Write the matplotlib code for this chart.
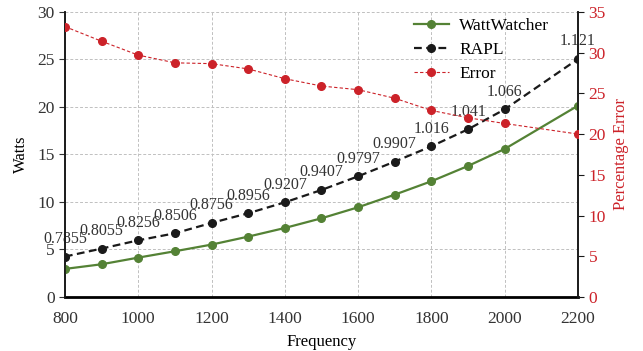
import matplotlib
matplotlib.use("Agg")
import matplotlib.pyplot as plt

plt.rcParams['font.family'] = ['Liberation Serif', 'DejaVu Serif']

# data
freq = [800, 900, 1000, 1100, 1200, 1300, 1400, 1500, 1600, 1700, 1800, 1900, 2000, 2200]
wattwatcher = [2.95, 3.44, 4.14, 4.81, 5.51, 6.35, 7.26, 8.28, 9.44, 10.77, 12.18, 13.79, 15.58, 20.14]
rapl = [4.25, 5.09, 5.96, 6.70, 7.79, 8.81, 9.96, 11.26, 12.70, 14.25, 15.86, 17.65, 19.75, 25.05]
error = [33.2, 31.4, 29.7, 28.75, 28.65, 28.0, 26.8, 25.9, 25.45, 24.4, 22.9, 22.0, 21.3, 20.0]
labels = ['0.7855', '0.8055', '0.8256', '0.8506', '0.8756', '0.8956', '0.9207',
          '0.9407', '0.9797', '0.9907', '1.016', '1.041', '1.066', '1.121']

green = '#548235'
red = '#CC2229'
black = '#1a1a1a'

fig = plt.figure(figsize=(6.43, 3.51), dpi=100)
ax = fig.add_axes([0.101, 0.154, 0.798, 0.812])
ax2 = ax.twinx()

l1, = ax.plot(freq, wattwatcher, '-o', color=green, lw=1.6, ms=5.5, label='WattWatcher', zorder=3)
l2, = ax.plot(freq, rapl, '--o', color=black, lw=1.6, ms=5.5, dashes=(3.5, 2), label='RAPL', zorder=3)
l3, = ax2.plot(freq, error, '--o', color=red, lw=0.8, ms=5.5, dashes=(3, 2), label='Error', zorder=3)

# ratio labels above the RAPL points
for x, y, t in zip(freq, rapl, labels):
    ax.annotate(t, (x, y), xytext=(0, 7), textcoords='offset points',
                ha='center', va='bottom', fontsize=11.5, color='#333333')

ax.set_xlim(800, 2200)
ax.set_ylim(0, 30)
ax2.set_ylim(0, 35)
ax.set_xticks(range(800, 2201, 200))
ax.set_yticks(range(0, 31, 5))
ax2.set_yticks(range(0, 36, 5))

ax.grid(True, color='#c0c0c0', ls='--', lw=0.7, dashes=(3, 2))
ax.set_axisbelow(True)

for a in (ax, ax2):
    a.spines['top'].set_visible(False)
    a.spines['left'].set_color(black)
    a.spines['right'].set_color(black)
    a.spines['left'].set_linewidth(1.2)
    a.spines['right'].set_linewidth(1.2)
ax.spines['bottom'].set_linewidth(2.0)
ax2.spines['bottom'].set_visible(False)

ax.tick_params(axis='x', length=0, labelsize=12.5, pad=10, colors='#333333')
ax.tick_params(axis='y', length=4, labelsize=12.5, colors='#333333')
ax2.tick_params(axis='y', length=4, labelsize=12.5, labelcolor=red, color=black)

ax.set_xlabel('Frequency', fontsize=12, labelpad=5)
ax.set_ylabel('Watts', fontsize=12, labelpad=6)
ax2.set_ylabel('Percentage Error', fontsize=12, color=red, labelpad=5)

ax2.legend(handles=[l1, l2, l3], loc='upper left', bbox_to_anchor=(0.65, 1.035),
           frameon=False, fontsize=12.5, handlelength=2.0, handletextpad=0.6,
           labelspacing=0.45)

fig.savefig('out.png', dpi=100)
